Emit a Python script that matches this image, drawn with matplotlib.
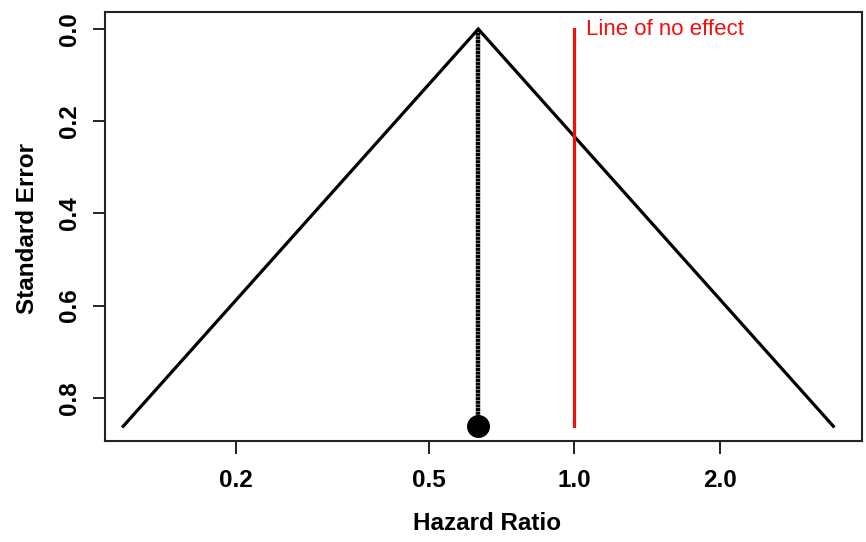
"""Funnel plot of standard error against hazard ratio (log scale), R base-graphics look."""

import matplotlib

matplotlib.use("Agg")
import matplotlib.pyplot as plt  # noqa: E402
import numpy as np  # noqa: E402

# Pooled estimate and the single study shown
pooled_hr = 0.633
max_se = 0.862
study_hr = [0.633]
study_se = [0.862]

# Axis ticks
x_ticks = [0.2, 0.5, 1.0, 2.0]
x_tick_labels = ["0.2", "0.5", "1.0", "2.0"]
y_ticks = [0.0, 0.2, 0.4, 0.6, 0.8]
y_tick_labels = ["0.0", "0.2", "0.4", "0.6", "0.8"]

null_hr = 1.0
z = 1.96

plt.rcParams["font.family"] = ["Liberation Sans", "DejaVu Sans"]

W, H = 866, 542
fig = plt.figure(figsize=(W / 100, H / 100), dpi=100)
ax = fig.add_axes([104.7 / W, 1 - 441 / H, (862 - 104.7) / W, (441 - 12) / H])

# 95% pseudo-confidence funnel
log_c = np.log(pooled_hr)
funnel_x = [np.exp(log_c - z * max_se), pooled_hr, np.exp(log_c + z * max_se)]
funnel_y = [max_se, 0.0, max_se]
ax.plot(funnel_x, funnel_y, color="black", lw=2.3, solid_joinstyle="miter")

# vertical line at pooled estimate (dense dots, reads almost solid)
ax.plot([pooled_hr, pooled_hr], [0.0, max_se], color="black", lw=3.2,
        linestyle=(0, (0.7, 0.12)))

# line of no effect
ax.plot([null_hr, null_hr], [0.0, max_se], color="#f01010", lw=2.3)
ax.text(1.055, 0.0, "Line of no effect", color="#f01010", fontsize=16,
        ha="left", va="center")

# study point
ax.plot(study_hr, study_se, "o", color="black", markersize=15.5)

ax.set_xscale("log")
ax.set_xlim(0.107, 3.93)
ax.set_ylim(0.894, -0.037)

ax.set_xticks(x_ticks)
ax.set_xticklabels(x_tick_labels)
ax.minorticks_off()
ax.set_yticks(y_ticks)
ax.set_yticklabels(y_tick_labels, rotation=90, va="center")

ax.tick_params(axis="both", length=9, width=1.4, labelsize=17.5, color="#222222")
ax.tick_params(axis="x", pad=11)
ax.tick_params(axis="y", pad=8)
for lab in ax.get_xticklabels() + ax.get_yticklabels():
    lab.set_fontweight("bold")
for sp in ax.spines.values():
    sp.set_linewidth(1.5)
    sp.set_color("#222222")

fig.text(487 / W, 1 - 523 / H, "Hazard Ratio", ha="center", va="center",
         fontsize=17.5, fontweight="bold")
fig.text(28 / W, 1 - 228 / H, "Standard Error", ha="center", va="center",
         rotation=90, fontsize=17.5, fontweight="bold")

fig.savefig("out.png", dpi=100)
